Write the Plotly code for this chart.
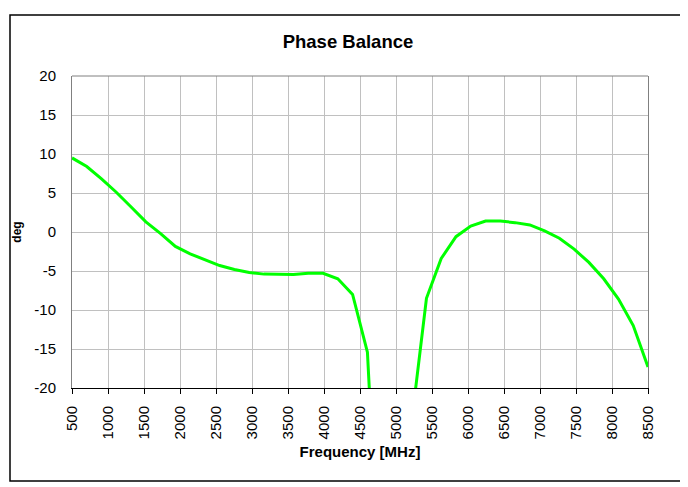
import plotly.graph_objects as go

freq_mhz = [500, 705, 910, 1115, 1321, 1526, 1731, 1936, 2141, 2346,
            2551, 2756, 2962, 3167, 3372, 3577, 3782, 3987, 4192, 4397,
            4603, 4808, 5013, 5218, 5423, 5628, 5833, 6038, 6244, 6449,
            6654, 6859, 7064, 7269, 7474, 7679, 7885, 8090, 8295, 8500]
phase_deg = [9.5, 8.4, 6.8, 5.1, 3.2, 1.3, -0.2, -1.85, -2.8, -3.6,
             -4.3, -4.8, -5.2, -5.4, -5.45, -5.45, -5.3, -5.3, -6.0, -8.0,
             -15.4, -52.0, -40.0, -24.0, -8.5, -3.4, -0.6, 0.75, 1.4, 1.4,
             1.2, 0.9, 0.15, -0.8, -2.2, -3.9, -6.0, -8.6, -12.0, -17.3]

x_ticks = list(range(500, 8501, 500))
y_ticks = list(range(-20, 21, 5))

# page body has an 8px margin, so the figure is sized/offset to compensate
OFF = 8
W, H = 688 - OFF, 487 - OFF
L, R, T, B = 72 - OFF, 40, 76 - OFF, 99
pw, ph = W - L - R, H - T - B

def px(xp):  # page x -> paper x
    return (xp - OFF - L) / pw

def py(yp):  # page y -> paper y
    return (H - B - (yp - OFF)) / ph

fig = go.Figure()
fig.add_trace(go.Scatter(x=freq_mhz, y=phase_deg, mode="lines",
                         line=dict(color="#00FF00", width=3),
                         showlegend=False, hoverinfo="x+y"))

font = "Liberation Sans, Arial, sans-serif"
fig.update_layout(
    width=W, height=H,
    margin=dict(l=L, r=R, t=T, b=B, autoexpand=False),
    paper_bgcolor="white", plot_bgcolor="white",
    font=dict(family=font, color="black"),
    title=dict(text="<b>Phase Balance</b>", x=(348 - OFF) / W, xanchor="center",
               xref="container",
               y=1 - (42 - OFF) / H, yanchor="middle",
               font=dict(size=18.5, family=font)),
    xaxis=dict(range=[500, 8500], tickmode="array", tickvals=x_ticks,
               ticktext=[str(v) for v in x_ticks], tickangle=-90,
               tickfont=dict(size=15), ticks="outside", ticklen=5,
               tickcolor="black", showline=True, linecolor="black",
               linewidth=1, showgrid=True, gridcolor="#C0C0C0", gridwidth=1,
               zeroline=False, ticklabelstandoff=6,
               title=dict(text="<b>Frequency [MHz]</b>", font=dict(size=15),
                          standoff=8)),
    yaxis=dict(range=[-20, 20], tickmode="array", tickvals=y_ticks,
               ticktext=[str(v) for v in y_ticks], tickfont=dict(size=15),
               ticks="", showline=True, linecolor="#808080", linewidth=1,
               mirror=True, showgrid=True, gridcolor="#C0C0C0", gridwidth=1,
               zeroline=False, ticklabelstandoff=12,
               title=dict(text="<b>deg</b>", font=dict(size=12), standoff=10)),
    shapes=[
        dict(type="line", xref="paper", yref="paper", x0=0, x1=1, y0=1, y1=1,
             line=dict(color="#808080", width=1)),
        dict(type="rect", xref="paper", yref="paper",
             x0=px(10), x1=px(686), y0=py(481), y1=py(15),
             line=dict(color="black", width=1.5), fillcolor="rgba(0,0,0,0)"),
    ],
)

fig.write_html("out.html")
